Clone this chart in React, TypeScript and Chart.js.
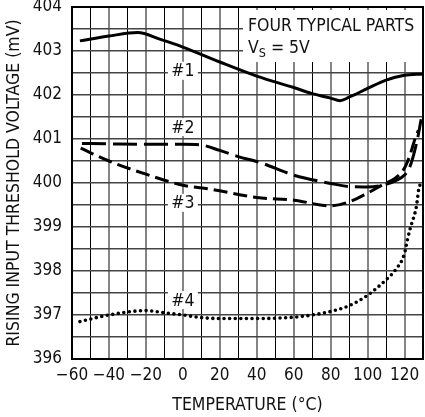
import React, { useEffect, useRef } from 'react';
import { Chart, registerables } from 'chart.js';

Chart.register(...registerables);

// ---- data (temperature °C, rising input threshold voltage mV) ----
const temps1 = [-55.7, -40, -24.4, -12.5, 0, 20, 40, 60, 70, 80, 85, 90, 100, 110, 120, 130];
const part1 = [403.23, 403.34, 403.42, 403.27, 403.09, 402.75, 402.43, 402.17, 402.03, 401.93, 401.87, 401.95, 402.15, 402.34, 402.45, 402.48];

const temps2 = [-54.6, -40, -20, 0, 9, 20, 30, 41.5, 60, 80, 90, 100, 110, 115, 120, 123, 125, 127, 129];
const part2 = [400.9, 400.89, 400.88, 400.88, 400.87, 400.74, 400.6, 400.47, 400.18, 399.99, 399.92, 399.91, 399.97, 400.05, 400.18, 400.38, 400.65, 401.0, 401.45];

const temps3 = [-55.3, -40, -20, 0, 15, 40, 60, 80, 90, 100, 109, 115, 120, 123, 125.5, 127.5];
const part3 = [400.79, 400.5, 400.2, 399.95, 399.86, 399.67, 399.61, 399.48, 399.57, 399.77, 399.98, 400.11, 400.34, 400.64, 400.98, 401.2];

const temps4 = [-55.7, -40, -20, -10, 0, 10, 20, 40, 60, 70, 80, 90, 100, 110, 115, 120, 121.5, 123.3, 126.4, 127.8, 129];
const part4 = [396.85, 397.0, 397.1, 397.05, 397.0, 396.94, 396.92, 396.92, 396.95, 397.0, 397.08, 397.21, 397.45, 397.8, 398.02, 398.4, 398.7, 399.0, 399.46, 399.88, 400.0];

const curveNames = ['#1', '#2', '#3', '#4'];
const xTickLabels = [-60, -40, -20, 0, 20, 40, 60, 80, 100, 120];
const yTickLabels = [396, 397, 398, 399, 400, 401, 402, 403, 404];

const legendLine1 = 'FOUR TYPICAL PARTS';
const legendV = 'V';
const legendSub = 'S';
const legendRest = ' = 5V';

const xTitle = 'TEMPERATURE (°C)';
const yTitle = 'RISING INPUT THRESHOLD VOLTAGE (mV)';

const FONT = "'DejaVu Sans Condensed', 'Liberation Sans Narrow', 'Liberation Sans', sans-serif";

// label anchors (temperature, voltage) for the curve tags
const tagAnchors: [number, number][] = [
  [0, 402.55],
  [0, 401.27],
  [0, 399.55],
  [0, 397.34],
];

const toPoints = (xs: number[], ys: number[]) => xs.map((x, i) => ({ x, y: ys[i] }));

const annotations = {
  id: 'annotations',
  beforeDatasetsDraw(chart: any) {
    const { ctx, chartArea } = chart;
    const xs = chart.scales.x;
    const ys = chart.scales.y;
    ctx.save();
    // legend box
    const bx0 = chartArea.right - 180;
    const by0 = chartArea.top + 3;
    ctx.fillStyle = '#fff';
    ctx.fillRect(bx0, by0, chartArea.right - bx0 - 1, 52);
    ctx.fillStyle = '#111';
    ctx.textBaseline = 'alphabetic';
    ctx.textAlign = 'left';
    ctx.font = `17.5px ${FONT}`;
    ctx.fillText(legendLine1, bx0 + 5, by0 + 21);
    ctx.fillText(legendV, bx0 + 5, by0 + 43);
    const vw = ctx.measureText(legendV).width;
    ctx.font = `12.5px ${FONT}`;
    ctx.fillText(legendSub, bx0 + 5 + vw, by0 + 47);
    const sw = ctx.measureText(legendSub).width;
    ctx.font = `17.5px ${FONT}`;
    ctx.fillText(legendRest, bx0 + 5 + vw + sw, by0 + 43);

    // curve tags
    ctx.textAlign = 'center';
    ctx.textBaseline = 'middle';
    curveNames.forEach((name, i) => {
      const px = xs.getPixelForValue(tagAnchors[i][0]);
      const py = ys.getPixelForValue(tagAnchors[i][1]);
      ctx.fillStyle = '#fff';
      ctx.fillRect(px - 15, py - 9, 30, 18);
      ctx.fillStyle = '#111';
      ctx.fillText(name, px, py + 1);
    });
    ctx.restore();
  },
};

export default function App() {
  const ref = useRef<HTMLCanvasElement | null>(null);
  useEffect(() => {
    if (!ref.current) return;
    const chart = new Chart(ref.current, {
      type: 'line',
      data: {
        datasets: [
          {
            label: curveNames[0],
            data: toPoints(temps1, part1),
            borderColor: '#000',
            borderWidth: 3,
            pointRadius: 0,
            fill: false,
            cubicInterpolationMode: 'monotone',
          },
          {
            label: curveNames[1],
            data: toPoints(temps2, part2),
            borderColor: '#000',
            borderWidth: 3,
            borderDash: [24, 7],
            pointRadius: 0,
            fill: false,
            cubicInterpolationMode: 'monotone',
          },
          {
            label: curveNames[2],
            data: toPoints(temps3, part3),
            borderColor: '#000',
            borderWidth: 3,
            borderDash: [14, 6],
            pointRadius: 0,
            fill: false,
            cubicInterpolationMode: 'monotone',
          },
          {
            label: curveNames[3],
            data: toPoints(temps4, part4),
            borderColor: '#000',
            borderWidth: 3.6,
            borderDash: [0, 5.6],
            borderCapStyle: 'round',
            pointRadius: 0,
            fill: false,
            cubicInterpolationMode: 'monotone',
          },
        ],
      },
      options: {
        responsive: false,
        animation: false,
        devicePixelRatio: 1,
        layout: { padding: { left: 0, right: 2, top: 7, bottom: 0 } },
        plugins: { legend: { display: false }, tooltip: { enabled: false } },
        scales: {
          x: {
            type: 'linear',
            min: -60,
            max: 130,
            afterFit: (s: any) => {
              s.height = 58;
              s.paddingLeft = 0;
              s.paddingRight = 0;
            },
            border: { display: true, color: '#000', width: 2 },
            grid: {
              drawTicks: false,
              color: (c: any) => (Math.round(c.tick?.value ?? 0) % 20 !== 0 ? '#000' : '#858585'),
              lineWidth: (c: any) => (Math.round(c.tick?.value ?? 0) % 20 !== 0 ? 1 : 2),
            },
            ticks: {
              stepSize: 10,
              autoSkip: false,
              maxRotation: 0,
              padding: 6,
              color: '#111',
              font: { family: FONT, size: 17 },
              callback: (v: any) => {
                const n = Math.round(Number(v));
                return xTickLabels.includes(n) ? (n < 0 ? '\u2212' + Math.abs(n) : String(n)) : '';
              },
            },
            title: {
              display: true,
              text: xTitle,
              color: '#111',
              font: { family: FONT, size: 17.5, lineHeight: 1.2 },
              padding: { top: 0, bottom: 1 },
            },
          },
          y: {
            type: 'linear',
            min: 396,
            max: 404,
            afterFit: (s: any) => {
              s.width = 72;
              s.paddingTop = 0;
              s.paddingBottom = 0;
            },
            border: { display: true, color: '#000', width: 2 },
            grid: {
              drawTicks: false,
              color: '#444',
              lineWidth: 1.5,
            },
            ticks: {
              stepSize: 0.5,
              autoSkip: false,
              padding: 10,
              color: '#111',
              font: { family: FONT, size: 17 },
              callback: (v: any) => {
                const n = Number(v);
                return yTickLabels.includes(n) ? String(n) : '';
              },
            },
            title: {
              display: true,
              text: yTitle,
              color: '#111',
              font: { family: FONT, size: 17.5, lineHeight: 1.2 },
              padding: { top: 4, bottom: 0 },
            },
          },
        },
      },
      plugins: [annotations, {
        id: 'topRightBorder',
        afterDraw(chart: any) {
          const { ctx, chartArea } = chart;
          ctx.save();
          ctx.strokeStyle = '#000';
          ctx.lineWidth = 2;
          ctx.beginPath();
          ctx.moveTo(chartArea.left, chartArea.top);
          ctx.lineTo(chartArea.right, chartArea.top);
          ctx.lineTo(chartArea.right, chartArea.bottom);
          ctx.stroke();
          ctx.restore();
        },
      }],
    } as any);
    return () => chart.destroy();
  }, []);
  return (
    <div style={{ position: 'absolute', left: 0, top: 0, width: 425, height: 417, background: '#fff' }}>
      <canvas ref={ref} width={425} height={417} style={{ display: 'block' }} />
    </div>
  );
}
